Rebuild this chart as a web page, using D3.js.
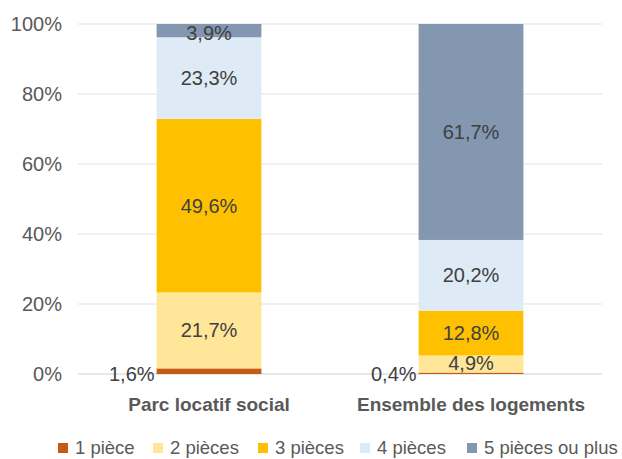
<!DOCTYPE html>
<html>
<head>
<meta charset="utf-8">
<script src="https://cdn.jsdelivr.net/npm/d3@7"></script>
<style>
  body { margin: 0; background: #fff; }
  text { font-family: "Liberation Sans", Arial, sans-serif; }
</style>
</head>
<body>
<svg id="chart" width="622" height="459"></svg>
<script>
/* data */
const categories = ["Parc locatif social", "Ensemble des logements"];
const series = ["1 pièce", "2 pièces", "3 pièces", "4 pièces", "5 pièces ou plus"];
const parc_social = [1.6, 21.7, 49.6, 23.3, 3.9];
const ensemble = [0.4, 4.9, 12.8, 20.2, 61.7];
const y_ticks = [0, 20, 40, 60, 80, 100];
const colors = ["#C55A11", "#FFE699", "#FFC000", "#DEEBF7", "#8497B0"];

/* display parameters */
const svg = d3.select("#chart"),
  plot_left = 78,
  plot_right = 602,
  plot_top = 24,
  plot_bottom = 374;

const x = d3.scaleBand().domain(categories).range([plot_left, plot_right]).paddingInner(0.6).paddingOuter(0.3);
const y = d3.scaleLinear().domain([0, 100]).range([plot_bottom, plot_top]);
const color = d3.scaleOrdinal().domain(series).range(colors);

const fmt = v => String(v).replace(".", ",") + "%";

const rows = [parc_social, ensemble].map((vals, i) => {
  let row = { cat: categories[i] };
  series.forEach((s, j) => (row[s] = vals[j]));
  return row;
});
const stacked = d3.stack().keys(series)(rows);

/* grid */
svg.append("g")
  .selectAll("line")
  .data(y_ticks)
  .join("line")
  .attr("x1", plot_left)
  .attr("x2", plot_right)
  .attr("y1", d => y(d))
  .attr("y2", d => y(d))
  .attr("stroke", d => (d === 0 ? "#d0d0d0" : "#e2e2e2"))
  .attr("stroke-width", 1);

/* y axis labels */
svg.append("g")
  .selectAll("text")
  .data(y_ticks)
  .join("text")
  .attr("x", 62)
  .attr("y", d => y(d))
  .attr("dy", "0.35em")
  .attr("text-anchor", "end")
  .attr("font-size", 20)
  .attr("fill", "#595959")
  .text(d => d + "%");

/* bars */
const layers = svg.append("g")
  .selectAll("g")
  .data(stacked)
  .join("g")
  .attr("fill", d => color(d.key));

layers.selectAll("rect")
  .data(d => d)
  .join("rect")
  .attr("x", d => x(d.data.cat))
  .attr("width", x.bandwidth())
  .attr("y", d => y(Math.min(d[1], 100)))
  .attr("height", d => y(d[0]) - y(Math.min(d[1], 100)));

/* value labels */
const labels = svg.append("g");
stacked.forEach((layer, j) => {
  layer.forEach(d => {
    let v = d.data[layer.key];
    let cx = x(d.data.cat) + x.bandwidth() / 2,
      cy = y((d[0] + Math.min(d[1], 100)) / 2),
      anchor = "middle";
    if (j === 0) {
      // tiny first segment: label left of the bar
      cx = x(d.data.cat) - 2;
      cy = y(0);
      anchor = "end";
    } else if (v < 5) {
      cy = y(d[1]) + 9;
      if (j === 1) cy = y(d[0]) - 10;
    }
    labels.append("text")
      .attr("x", cx)
      .attr("y", cy)
      .attr("dy", "0.35em")
      .attr("text-anchor", anchor)
      .attr("font-size", 20)
      .attr("fill", "#404040")
      .text(fmt(v));
  });
});

/* category labels */
svg.append("g")
  .selectAll("text")
  .data(categories)
  .join("text")
  .attr("x", d => x(d) + x.bandwidth() / 2)
  .attr("y", 404)
  .attr("dy", "0.35em")
  .attr("text-anchor", "middle")
  .attr("font-size", 19)
  .attr("font-weight", "bold")
  .attr("fill", "#595959")
  .text(d => d);

/* legend */
const legend_x = [58, 153, 258, 360, 467];
const legend = svg.append("g")
  .selectAll("g")
  .data(series)
  .join("g")
  .attr("transform", (d, i) => "translate(" + legend_x[i] + ",448)");

legend.append("rect")
  .attr("x", 0)
  .attr("y", -5)
  .attr("width", 10)
  .attr("height", 10)
  .attr("fill", d => color(d));

legend.append("text")
  .attr("x", 17)
  .attr("y", 0)
  .attr("dy", "0.35em")
  .attr("font-size", 18.5)
  .attr("fill", "#595959")
  .text(d => d);
</script>
</body>
</html>
